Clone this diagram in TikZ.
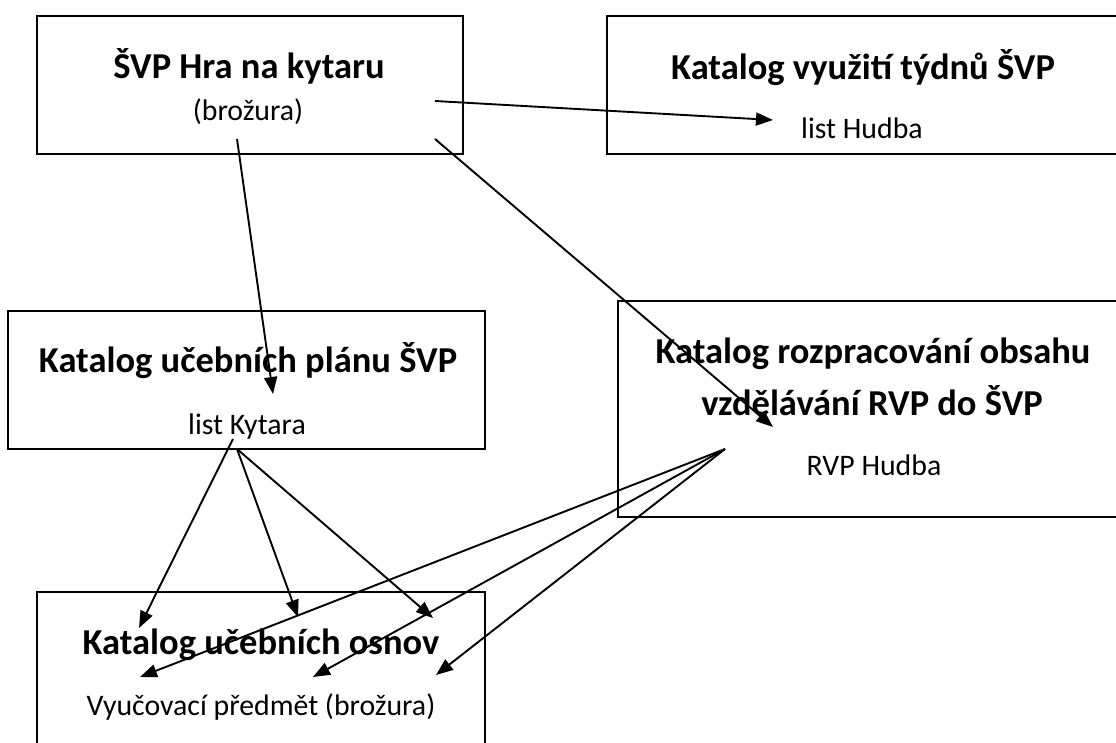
\documentclass[tikz,border=0pt]{standalone}
\usepackage{fontspec}
\setmainfont{Carlito}
\usetikzlibrary{arrows.meta}
\tikzset{
  boxframe/.style={draw=black, line width=2pt, inner sep=0pt},
  titletext/.style={anchor=base, inner sep=0pt, font=\fontsize{36.5}{44}\selectfont\bfseries, align=center},
  subtext/.style={anchor=base, inner sep=0pt, font=\fontsize{29.8}{36}\selectfont},
  link/.style={line width=1.9pt, -{Triangle[length=17pt,width=13pt]}},
}
\begin{document}
\begin{tikzpicture}[x=1pt,y=-1pt]
\useasboundingbox (0,0) rectangle (1116,742);
\clip (0,0) rectangle (1116,742);
% boxes
\draw[boxframe] (37,16) rectangle (463,154);
\draw[boxframe] (607,16) rectangle (1140,154);
\draw[boxframe] (8,311) rectangle (485,449);
\draw[boxframe] (618,301) rectangle (1140,517);
\draw[boxframe] (37,592) rectangle (485,780);
% texts
\node[titletext] (t1) at (249,78) {ŠVP Hra na kytaru};
\node[subtext] (s1) at (248,120) {(brožura)};
\node[titletext] (t2) at (863,79) {Katalog využití týdnů ŠVP};
\node[subtext] (s2) at (862,138) {list Hudba};
\node[titletext] (t3) at (248,372) {Katalog učebních plánu ŠVP};
\node[subtext] (s3) at (247,434) {list Kytara};
\node[titletext] (t4a) at (873,363) {Katalog rozpracování obsahu};
\node[titletext] (t4b) at (872,415) {vzdělávání RVP do ŠVP};
\node[subtext] (s4) at (874,475) {RVP Hudba};
\node[titletext] (t5) at (261,654) {Katalog učebních osnov};
\node[subtext] (s5) at (261,715) {Vyučovací předmět (brožura)};
% connector ends
\coordinate (o1a) at (435,101);
\coordinate (o1b) at (237,139);
\coordinate (o1c) at (435,139);
\coordinate (h2) at (773,120);
\coordinate (p3) at (273,394);
\coordinate (h4) at (773,427);
\coordinate (o3a) at (233,439);
\coordinate (o3b) at (237,449);
\coordinate (o4) at (725,449);
\coordinate (e1) at (139,628);
\coordinate (e2) at (298,617);
\coordinate (e3) at (433,618);
\coordinate (e4) at (140,677);
\coordinate (e5) at (313,677);
\coordinate (e6) at (436,675);
% connectors
\draw[link] (o1a) -- (h2);
\draw[link] (o1b) -- (p3);
\draw[link] (o1c) -- (h4);
\draw[link] (o3a) -- (e1);
\draw[link] (o3b) -- (e2);
\draw[link] (o3b) -- (e3);
\draw[link] (o4) -- (e4);
\draw[link] (o4) -- (e5);
\draw[link] (o4) -- (e6);
\end{tikzpicture}
\end{document}
